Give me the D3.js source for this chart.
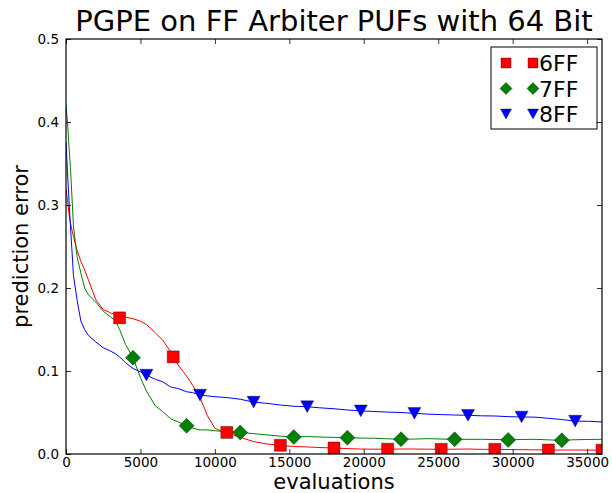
<!DOCTYPE html>
<html>
<head>
<meta charset="utf-8">
<script src="https://cdn.jsdelivr.net/npm/d3@7"></script>
<style>
  body { margin: 0; background: #fff; }
  svg text { font-family: "DejaVu Sans", sans-serif; fill: #000; }
</style>
</head>
<body>
<div id="chart"></div>
<script>
// Data
var evaluations = [0, 100, 200, 300, 500, 750, 1000, 1250, 1500, 2000,
    2500, 3000, 3300, 3600, 4000, 4500, 5000, 5400, 6000, 6500,
    7000, 7200, 7500, 8100, 8500, 9000, 9500, 10000, 10400, 10800,
    11700, 12600, 13500, 14400, 15300, 16200, 17000, 18000, 18900, 19800,
    20700, 21600, 22500, 23400, 24300, 25200, 26100, 27000, 27900, 28800,
    29700, 30600, 31500, 32400, 33300, 34200, 35100, 36000];

var err6FF = [0.32, 0.305, 0.29, 0.278, 0.262, 0.245, 0.232, 0.222, 0.21, 0.186,
    0.174, 0.170, 0.168, 0.164, 0.165, 0.163, 0.160, 0.156, 0.146, 0.137,
    0.124, 0.117, 0.108, 0.094, 0.083, 0.068, 0.046, 0.031, 0.028, 0.026,
    0.020, 0.015, 0.012, 0.0105, 0.009, 0.0085, 0.0078, 0.0072, 0.0065, 0.006,
    0.0058, 0.0058, 0.006, 0.006, 0.0058, 0.0056, 0.0058, 0.006, 0.0056, 0.0056,
    0.0054, 0.0052, 0.005, 0.0048, 0.0048, 0.0048, 0.0047, 0.0046];

var err7FF = [0.42, 0.40, 0.37, 0.345, 0.275, 0.237, 0.218, 0.200, 0.192, 0.183,
    0.172, 0.165, 0.161, 0.150, 0.132, 0.116, 0.092, 0.076, 0.058, 0.051,
    0.043, 0.041, 0.039, 0.034, 0.031, 0.029, 0.029, 0.028, 0.0275, 0.027,
    0.026, 0.0245, 0.023, 0.0215, 0.0205, 0.021, 0.0205, 0.020, 0.0197, 0.0192,
    0.019, 0.0183, 0.0178, 0.018, 0.0185, 0.018, 0.0177, 0.0177, 0.0177, 0.0175,
    0.017, 0.0175, 0.0177, 0.017, 0.0165, 0.0172, 0.0175, 0.0177];

var err8FF = [0.375, 0.34, 0.305, 0.275, 0.215, 0.185, 0.160, 0.150, 0.143, 0.135,
    0.128, 0.124, 0.121, 0.117, 0.110, 0.103, 0.099, 0.095, 0.090, 0.087,
    0.081, 0.080, 0.079, 0.075, 0.074, 0.071, 0.070, 0.069, 0.0685, 0.068,
    0.066, 0.0625, 0.061, 0.059, 0.0575, 0.057, 0.0557, 0.0545, 0.053, 0.052,
    0.0512, 0.0505, 0.050, 0.049, 0.048, 0.0475, 0.047, 0.0466, 0.046, 0.0458,
    0.045, 0.0446, 0.0444, 0.043, 0.0415, 0.0396, 0.0394, 0.0386];

// evaluations where a marker is drawn on each curve
var marks6FF = [3600, 7200, 10800, 14400, 18000, 21600, 25200, 28800, 32400, 36000];
var marks7FF = [4500, 8100, 11700, 15300, 18900, 22500, 26100, 29700, 33300];
var marks8FF = [5400, 9000, 12600, 16200, 19800, 23400, 27000, 30600, 34200];

var xTicks = [0, 5000, 10000, 15000, 20000, 25000, 30000, 35000];
var yTicks = [0.0, 0.1, 0.2, 0.3, 0.4, 0.5];

var series = [
    { name: "6FF", values: err6FF, marks: marks6FF, color: "#ff0000", symbol: "square", size: 12, legendSize: 10 },
    { name: "7FF", values: err7FF, marks: marks7FF, color: "#008000", symbol: "diamond", size: 15, legendSize: 12 },
    { name: "8FF", values: err8FF, marks: marks8FF, color: "#0000ff", symbol: "triDown", size: 13, legendSize: 11 }
];

// Chart Size
var svgWidth = 612;
var svgHeight = 493;
var margin = { top: 39, right: 10, bottom: 39, left: 66 };
var width = 602 - margin.left;
var height = 454 - margin.top;

var svg = d3.select("#chart")
    .append("svg")
    .attr("width", svgWidth)
    .attr("height", svgHeight);

var chartGroup = svg.append("g")
    .attr("transform", `translate(${margin.left}, ${margin.top})`);

var xScale = d3.scaleLinear().domain([0, 36000]).range([0, width]);
var yScale = d3.scaleLinear().domain([0, 0.5]).range([height, 0]);

svg.append("defs").append("clipPath")
    .attr("id", "plotClip")
    .append("rect")
    .attr("width", width)
    .attr("height", height);

// marker outlines, size is the full width of the marker
function markerPath(s, size) {
    var r = size / 2;
    if (s === "triDown") {
        var h = size * 0.9 / 2;
        return `M${-r},${-h}L${r},${-h}L0,${h}Z`;
    }
    if (s === "diamond") {
        return `M0,${-r}L${r},0L0,${r}L${-r},0Z`;
    }
    return `M${-r},${-r}H${r}V${r}H${-r}Z`;
}

var line = d3.line()
    .x((d, i) => xScale(evaluations[i]))
    .y(d => yScale(d));

var plot = chartGroup.append("g").attr("clip-path", "url(#plotClip)");

series.forEach(s => {
    plot.append("path")
        .datum(s.values)
        .attr("d", line)
        .attr("fill", "none")
        .attr("stroke", s.color)
        .attr("stroke-width", 1);
});

series.forEach(s => {
    var pts = s.marks.map(m => ({ x: m, y: s.values[evaluations.indexOf(m)] }));
    plot.selectAll(null)
        .data(pts)
        .enter()
        .append("path")
        .attr("transform", d => `translate(${xScale(d.x)}, ${yScale(d.y)})`)
        .attr("d", markerPath(s.symbol, s.size))
        .attr("fill", s.color)
        .attr("stroke", "#000")
        .attr("stroke-opacity", 0.6)
        .attr("stroke-width", 0.6);
});

// Axes with inward ticks on all four sides
var tickLen = 5;
var bottomAxis = d3.axisBottom(xScale).tickValues(xTicks).tickSize(-tickLen).tickPadding(3).tickFormat(d3.format("d"));
var topAxis = d3.axisTop(xScale).tickValues(xTicks).tickSize(-tickLen).tickFormat("");
var leftAxis = d3.axisLeft(yScale).tickValues(yTicks).tickSize(-tickLen).tickPadding(7).tickFormat(d3.format(".1f"));
var rightAxis = d3.axisRight(yScale).tickValues(yTicks).tickSize(-tickLen).tickFormat("");

function styleAxis(g) {
    g.select(".domain").remove();
    g.selectAll(".tick line").attr("stroke", "#000").attr("stroke-width", 0.8);
    g.selectAll(".tick text").style("font-size", "13.5px").attr("fill", "#000");
}

chartGroup.append("g").attr("transform", `translate(0, ${height})`).call(bottomAxis).call(styleAxis);
chartGroup.append("g").call(topAxis).call(styleAxis);
chartGroup.append("g").call(leftAxis).call(styleAxis);
chartGroup.append("g").attr("transform", `translate(${width}, 0)`).call(rightAxis).call(styleAxis);

chartGroup.append("rect")
    .attr("width", width)
    .attr("height", height)
    .attr("fill", "none")
    .attr("stroke", "#000")
    .attr("stroke-width", 1.2);

// Title and axis labels
svg.append("text")
    .attr("x", margin.left + width / 2)
    .attr("y", 31)
    .attr("text-anchor", "middle")
    .style("font-size", "29px")
    .text("PGPE on FF Arbiter PUFs with 64 Bit");

svg.append("text")
    .attr("x", margin.left + width / 2)
    .attr("y", 488.5)
    .attr("text-anchor", "middle")
    .style("font-size", "21px")
    .text("evaluations");

svg.append("text")
    .attr("transform", `translate(28, ${margin.top + height / 2}) rotate(-90)`)
    .attr("text-anchor", "middle")
    .style("font-size", "21px")
    .text("prediction error");

// Legend
var legend = svg.append("g").attr("transform", "translate(491, 47)");
legend.append("rect")
    .attr("width", 106)
    .attr("height", 82)
    .attr("fill", "#fff")
    .attr("stroke", "#000")
    .attr("stroke-width", 1);

series.forEach((s, i) => {
    var cy = 16 + i * 25.5;
    [15, 42].forEach(cx => {
        legend.append("path")
            .attr("transform", `translate(${cx}, ${cy})`)
            .attr("d", markerPath(s.symbol, s.legendSize))
            .attr("fill", s.color)
            .attr("stroke", "#000")
            .attr("stroke-opacity", 0.6)
            .attr("stroke-width", 0.6);
    });
    legend.append("text")
        .attr("x", 48)
        .attr("y", cy + 8)
        .style("font-size", "22px")
        .text(s.name);
});
</script>
</body>
</html>
